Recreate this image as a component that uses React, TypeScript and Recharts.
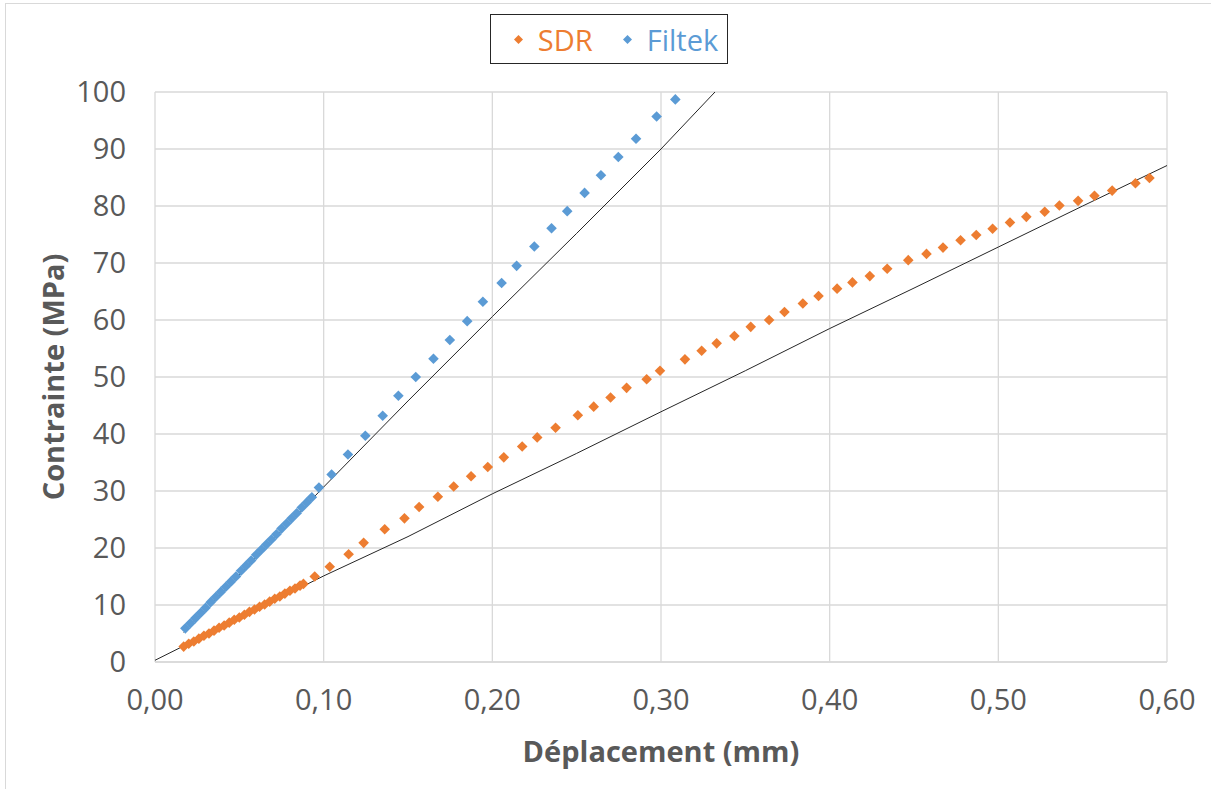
import { ScatterChart, Scatter, XAxis, YAxis, CartesianGrid, Label } from 'recharts';

// Déplacement (mm) / Contrainte (MPa)
const sdrX = [
  0.017, 0.020, 0.023, 0.026, 0.029, 0.032, 0.035, 0.038, 0.041, 0.044, 0.047, 0.050, 0.053,
  0.056, 0.059, 0.062, 0.065, 0.068, 0.071, 0.074, 0.077, 0.080, 0.083, 0.086, 0.088,
  0.0947, 0.1036, 0.1148, 0.1237, 0.1362, 0.1479, 0.1566, 0.1677, 0.1771, 0.1874, 0.1973,
  0.2068, 0.2177, 0.2266, 0.2375, 0.2507, 0.2601, 0.2701, 0.2796, 0.2915, 0.2994, 0.3142,
  0.3241, 0.3330, 0.3435, 0.3532, 0.3641, 0.3732, 0.3841, 0.3934, 0.4044, 0.4135, 0.4238,
  0.4341, 0.4466, 0.4574, 0.4672, 0.4776, 0.4869, 0.4966, 0.5069, 0.5166, 0.5275, 0.5362,
  0.5473, 0.5570, 0.5675, 0.5813, 0.5896,
];
const sdrY = [
  2.7, 3.2, 3.6, 4.1, 4.6, 5.0, 5.5, 6.0, 6.4, 6.9, 7.4, 7.8, 8.3,
  8.8, 9.2, 9.7, 10.1, 10.6, 11.1, 11.5, 12.0, 12.5, 12.9, 13.4, 13.7,
  15.0, 16.7, 18.9, 20.9, 23.3, 25.2, 27.2, 29.0, 30.8, 32.6, 34.2,
  35.9, 37.8, 39.4, 41.1, 43.3, 44.8, 46.4, 48.1, 49.6, 51.1, 53.1,
  54.6, 55.9, 57.2, 58.8, 60.0, 61.4, 62.9, 64.2, 65.5, 66.6, 67.7,
  69.0, 70.5, 71.6, 72.7, 74.0, 74.9, 76.0, 77.1, 78.1, 79.0, 80.1,
  80.9, 81.8, 82.7, 84.0, 84.9,
];

const filtekX = [
  0.018, 0.021, 0.024, 0.027, 0.030, 0.033, 0.036, 0.039, 0.042, 0.045, 0.048, 0.051, 0.054,
  0.057, 0.060, 0.063, 0.066, 0.069, 0.072, 0.075, 0.078, 0.081, 0.084, 0.087, 0.090, 0.093,
  0.0972, 0.1047, 0.1144, 0.1247, 0.1350, 0.1443, 0.1546, 0.1651, 0.1748, 0.1851, 0.1944,
  0.2055, 0.2144, 0.2249, 0.2351, 0.2444, 0.2547, 0.2644, 0.2747, 0.2852, 0.2974, 0.3085,
];
const filtekY = [
  5.9, 6.8, 7.7, 8.6, 9.5, 10.5, 11.4, 12.3, 13.2, 14.1, 15.0, 16.0, 16.9,
  17.8, 18.8, 19.7, 20.6, 21.5, 22.4, 23.4, 24.3, 25.2, 26.1, 27.1, 28.0, 28.9,
  30.6, 32.9, 36.4, 39.7, 43.2, 46.7, 50.0, 53.2, 56.5, 59.8, 63.2,
  66.5, 69.5, 72.9, 76.1, 79.1, 82.3, 85.4, 88.6, 91.8, 95.7, 98.7,
];

// black reference curves
const sdrRefX = [0, 0.05, 0.1, 0.15, 0.2, 0.25, 0.3, 0.35, 0.4, 0.45, 0.5, 0.55, 0.6];
const sdrRefY = [0.3, 7.7, 15.1, 22.0, 29.5, 36.6, 43.9, 51.1, 58.5, 65.6, 72.8, 80.0, 87.1];
const filtekRefX = [0.017, 0.1, 0.15, 0.2, 0.25, 0.3, 0.332];
const filtekRefY = [5.2, 30.7, 45.8, 60.6, 75.2, 90.0, 100];

const xTicks = [0, 0.1, 0.2, 0.3, 0.4, 0.5, 0.6];
const yTicks = [0, 10, 20, 30, 40, 50, 60, 70, 80, 90, 100];

const seriesNames = ['SDR', 'Filtek'];
const seriesColors = ['#ED7D31', '#5B9BD5'];

const zip = (xs: number[], ys: number[]) => xs.map((x, i) => ({ x, y: ys[i] }));

const sdrData = zip(sdrX, sdrY);
const filtekData = zip(filtekX, filtekY);
const sdrRef = zip(sdrRefX, sdrRefY);
const filtekRef = zip(filtekRefX, filtekRefY);

const Diamond = ({ cx, cy, fill }: any) => {
  const r = 5.3;
  return <polygon points={`${cx},${cy - r} ${cx + r},${cy} ${cx},${cy + r} ${cx - r},${cy}`} fill={fill} />;
};

const NoDot = () => <g />;

const XTitle = ({ viewBox }: any) => (
  <text x={viewBox.x + viewBox.width / 2} y={viewBox.y + 100} textAnchor="middle" fill="#595959" fontSize={29} fontWeight={700}>
    Déplacement (mm)
  </text>
);

const YTitle = ({ viewBox }: any) => {
  const x = 64;
  const y = viewBox.y + viewBox.height / 2;
  return (
    <text x={x} y={y} transform={`rotate(-90, ${x}, ${y})`} textAnchor="middle" fill="#595959" fontSize={29} fontWeight={700}>
      Contrainte (MPa)
    </text>
  );
};

const fmt = (v: number) => v.toFixed(2).replace('.', ',');

export default function App() {
  return (
    <div style={{ position: 'absolute', left: 0, top: 0, width: 1211, height: 789, background: '#fff', fontFamily: '"Open Sans", sans-serif' }}>
      {/* chart frame, only left and top edges show in the crop */}
      <div style={{ position: 'absolute', left: 5, top: 3, right: 0, bottom: 0, borderLeft: '1.5px solid #d9d9d9', borderTop: '1.5px solid #d9d9d9' }} />

      <ScatterChart width={1211} height={789} margin={{ top: 92, right: 44, bottom: 37, left: 0 }} style={{ position: 'absolute', left: 0, top: 0 }}>
        <CartesianGrid stroke="#d9d9d9" strokeWidth={1.3} />
        <XAxis
          type="number"
          dataKey="x"
          domain={[0, 0.6]}
          ticks={xTicks}
          tickFormatter={fmt}
          height={90}
          axisLine={{ stroke: '#d9d9d9', strokeWidth: 1.3 }}
          tickLine={false}
          tickSize={0}
          tickMargin={27}
          tick={{ fill: '#595959', fontSize: 29 }}
        >
          <Label content={XTitle} />
        </XAxis>
        <YAxis
          type="number"
          dataKey="y"
          domain={[0, 100]}
          ticks={yTicks}
          width={155}
          axisLine={false}
          tickLine={false}
          tickSize={0}
          tickMargin={29}
          tick={{ fill: '#595959', fontSize: 29 }}
        >
          <Label content={YTitle} />
        </YAxis>

        <Scatter data={sdrRef} line={{ stroke: '#262626', strokeWidth: 1 }} shape={NoDot} isAnimationActive={false} />
        <Scatter data={filtekRef} line={{ stroke: '#262626', strokeWidth: 1 }} shape={NoDot} isAnimationActive={false} />
        <Scatter name="SDR" data={sdrData} fill={seriesColors[0]} shape={Diamond} isAnimationActive={false} />
        <Scatter name="Filtek" data={filtekData} fill={seriesColors[1]} shape={Diamond} isAnimationActive={false} />
      </ScatterChart>

      <div
        style={{
          position: 'absolute', left: 490, top: 14, width: 238, height: 50, boxSizing: 'border-box', paddingLeft: 14,
          border: '1.5px solid #262626', display: 'flex', alignItems: 'center', justifyContent: 'center', gap: 30,
        }}
      >
        {seriesNames.map((name, i) => (
          <div key={name} style={{ display: 'flex', alignItems: 'center', gap: 15, color: seriesColors[i], fontSize: 29 }}>
            <svg width={9} height={9}>
              <polygon points="4.5,0 9,4.5 4.5,9 0,4.5" fill={seriesColors[i]} />
            </svg>
            <span style={{ lineHeight: 1 }}>{name}</span>
          </div>
        ))}
      </div>
    </div>
  );
}
